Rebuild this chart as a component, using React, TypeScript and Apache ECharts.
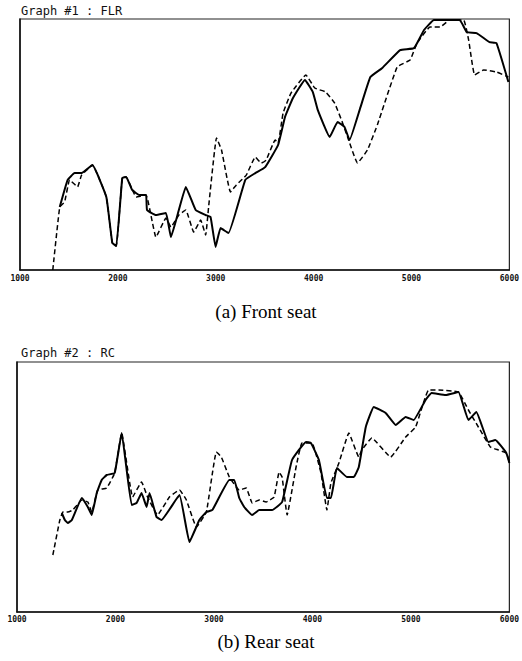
import React, { useEffect, useRef } from "react";
import * as echarts from "echarts";

// Graph #1 : FLR (front seat) — [rpm, relative level]
const frontSolid: [number, number][] = [
  [1406, 25.1], [1487, 35.9], [1558, 38.6], [1629, 38.6], [1740, 41.8], [1882, 29.1], [1943, 10.8], [1984, 9.6],
  [2045, 36.7], [2085, 37.1], [2146, 31.9], [2217, 29.9], [2288, 29.9], [2298, 23.9], [2389, 21.9], [2491, 22.7],
  [2542, 13.1], [2623, 23.9], [2694, 33.1], [2795, 23.9], [2897, 21.9], [2947, 21.1], [2998, 9.2], [3049, 16.7],
  [3130, 14.7], [3302, 35.9], [3404, 38.6], [3505, 41.0], [3637, 49.8], [3708, 61.0], [3789, 68.5], [3911, 75.7],
  [3992, 70.9], [4043, 63.7], [4164, 53.0], [4245, 59.0], [4316, 57.0], [4367, 51.8], [4479, 64.9], [4580, 76.9],
  [4702, 80.5], [4884, 87.6], [5026, 88.4], [5128, 95.6], [5229, 99.6], [5331, 99.6], [5493, 99.6], [5564, 94.8],
  [5665, 94.4], [5797, 90.8], [5868, 90.4], [5990, 74.9],
];
const frontDashed: [number, number][] = [
  [1335, 0], [1406, 25.1], [1456, 27.1], [1507, 35.9], [1588, 33.1], [1629, 37.8], [1740, 41.8], [1882, 29.1],
  [1943, 10.8], [1984, 9.6], [2045, 36.7], [2085, 37.1], [2187, 29.1], [2288, 29.9], [2389, 13.1], [2491, 20.7],
  [2542, 17.1], [2623, 21.9], [2694, 23.9], [2775, 15.1], [2846, 19.9], [2897, 13.9], [2927, 25.1], [3008, 52.6],
  [3059, 47.8], [3150, 31.1], [3211, 33.9], [3312, 37.8], [3404, 45.0], [3465, 42.6], [3515, 43.8], [3607, 51.8],
  [3637, 50.6], [3688, 62.5], [3769, 70.5], [3921, 77.7], [4012, 72.5], [4124, 70.9], [4215, 66.5], [4296, 58.6],
  [4347, 53.0], [4448, 42.6], [4550, 47.8], [4651, 57.8], [4854, 80.9], [4986, 83.7], [5057, 90.4], [5189, 96.8],
  [5290, 96.8], [5391, 99.6], [5533, 99.6], [5584, 91.6], [5645, 77.7], [5736, 79.7], [5868, 78.9], [5990, 76.9],
];

// Graph #2 : RC (rear seat)
const rearSolid: [number, number][] = [
  [1455, 39.6], [1486, 36.8], [1516, 35.6], [1557, 36.8], [1658, 45.6], [1719, 42.0], [1759, 38.8], [1810, 47.6],
  [1860, 52.8], [1911, 54.8], [1992, 55.6], [2063, 71.6], [2164, 42.8], [2214, 43.6], [2265, 47.6], [2316, 42.0],
  [2346, 47.6], [2417, 38.0], [2467, 36.8], [2650, 46.8], [2751, 28.0], [2852, 36.8], [2923, 40.0], [2984, 40.8],
  [3156, 52.8], [3206, 52.8], [3257, 45.6], [3307, 42.0], [3388, 38.8], [3459, 40.8], [3591, 40.8], [3692, 44.0],
  [3793, 60.8], [3935, 68.0], [3985, 67.6], [4066, 60.8], [4147, 45.6], [4188, 45.6], [4249, 57.6], [4350, 54.0],
  [4421, 54.0], [4471, 58.0], [4542, 74.0], [4623, 82.0], [4744, 79.6], [4846, 74.8], [4947, 78.0], [5028, 76.8],
  [5149, 84.8], [5210, 87.6], [5352, 86.8], [5483, 88.0], [5584, 76.8], [5665, 80.0], [5787, 68.0], [5858, 68.8],
  [5969, 63.6], [6000, 59.6],
];
const rearDashed: [number, number][] = [
  [1364, 22.8], [1435, 36.8], [1466, 40.0], [1516, 40.0], [1567, 40.8], [1658, 44.8], [1719, 44.0], [1759, 40.0],
  [1820, 48.8], [1911, 49.6], [1992, 55.6], [2063, 71.6], [2174, 46.0], [2265, 52.0], [2326, 46.0], [2427, 38.8],
  [2548, 46.0], [2650, 48.8], [2720, 44.8], [2822, 34.0], [2923, 40.0], [3024, 64.0], [3075, 62.0], [3156, 54.0],
  [3257, 48.8], [3328, 49.6], [3388, 43.6], [3459, 44.8], [3530, 44.0], [3611, 46.0], [3662, 56.0], [3692, 54.0],
  [3743, 38.8], [3834, 58.0], [3894, 67.6], [3996, 67.6], [4087, 55.6], [4147, 40.8], [4188, 51.6], [4269, 59.6],
  [4370, 71.6], [4471, 62.0], [4502, 64.8], [4603, 69.6], [4795, 62.0], [4947, 70.0], [5048, 74.0], [5180, 88.8],
  [5281, 88.8], [5483, 88.0], [5584, 80.8], [5685, 74.0], [5807, 66.0], [5888, 64.8], [5969, 63.6], [6000, 60.0],
];

const graphTitles = ["Graph #1 : FLR", "Graph #2 : RC"];
const captions = ["(a) Front seat", "(b) Rear seat"];
const xMin = 1000;
const xMax = 6000;
const xStep = 1000;

export default function App() {
  const ref = useRef<HTMLDivElement>(null);
  useEffect(() => {
    document.body.style.margin = "0";
    const chart = echarts.init(ref.current!, null, { renderer: "svg" });
    const mono = "DejaVu Sans Mono";
    const xAxisBase = (gridIndex: number, margin: number) => ({
      type: "value",
      gridIndex,
      min: xMin,
      max: xMax,
      interval: xStep,
      axisLine: { show: true, lineStyle: { color: "#111", width: 1.5 } },
      axisTick: { show: false },
      splitLine: { show: false },
      axisLabel: {
        color: "#111",
        fontFamily: mono,
        fontWeight: "bold",
        fontSize: 8,
        margin,
        formatter: (v: number) => String(v),
      },
    });
    const yAxisBase = (gridIndex: number) => ({
      type: "value",
      gridIndex,
      min: 0,
      max: 100,
      axisLine: { show: true, lineStyle: { color: "#111", width: 1.5 } },
      axisTick: { show: false },
      axisLabel: { show: false },
      splitLine: { show: false },
    });
    const solid = (data: [number, number][], i: number) => ({
      type: "line",
      xAxisIndex: i,
      yAxisIndex: i,
      data,
      symbol: "none",
      smooth: 0.1,
      lineStyle: { color: "#000", width: 2 },
      z: 3,
    });
    const dashed = (data: [number, number][], i: number) => ({
      type: "line",
      xAxisIndex: i,
      yAxisIndex: i,
      data,
      symbol: "none",
      smooth: 0.1,
      lineStyle: { color: "#000", width: 1.5, type: [5, 3] },
      z: 2,
    });
    chart.setOption({
      animation: false,
      backgroundColor: "#fff",
      grid: [
        { left: 20, top: 19, width: 493, height: 251, show: true, borderColor: "#222", borderWidth: 1.2, backgroundColor: "transparent" },
        { left: 17, top: 362, width: 494, height: 250, show: true, borderColor: "#222", borderWidth: 1.2, backgroundColor: "transparent" },
      ],
      xAxis: [xAxisBase(0, 4), xAxisBase(1, 3)],
      yAxis: [yAxisBase(0), yAxisBase(1)],
      series: [
        dashed(frontDashed, 0),
        solid(frontSolid, 0),
        dashed(rearDashed, 1),
        solid(rearSolid, 1),
      ],
      graphic: [
        {
          type: "text",
          left: 21,
          top: 5,
          style: { text: graphTitles[0], font: `12px "${mono}"`, fill: "#111" },
        },
        {
          type: "text",
          left: 21,
          top: 347,
          style: { text: graphTitles[1], font: `12px "${mono}"`, fill: "#111" },
        },
        {
          type: "text",
          x: 266,
          y: 311,
          style: {
            text: captions[0],
            font: '19px "Liberation Serif"',
            fill: "#000",
            align: "center",
            verticalAlign: "middle",
          },
        },
        {
          type: "text",
          x: 266,
          y: 641,
          style: {
            text: captions[1],
            font: '19px "Liberation Serif"',
            fill: "#000",
            align: "center",
            verticalAlign: "middle",
          },
        },
      ],
    });
    return () => chart.dispose();
  }, []);
  return (
    <div
      ref={ref}
      style={{ position: "absolute", left: 0, top: 0, width: 522, height: 661 }}
    />
  );
}
